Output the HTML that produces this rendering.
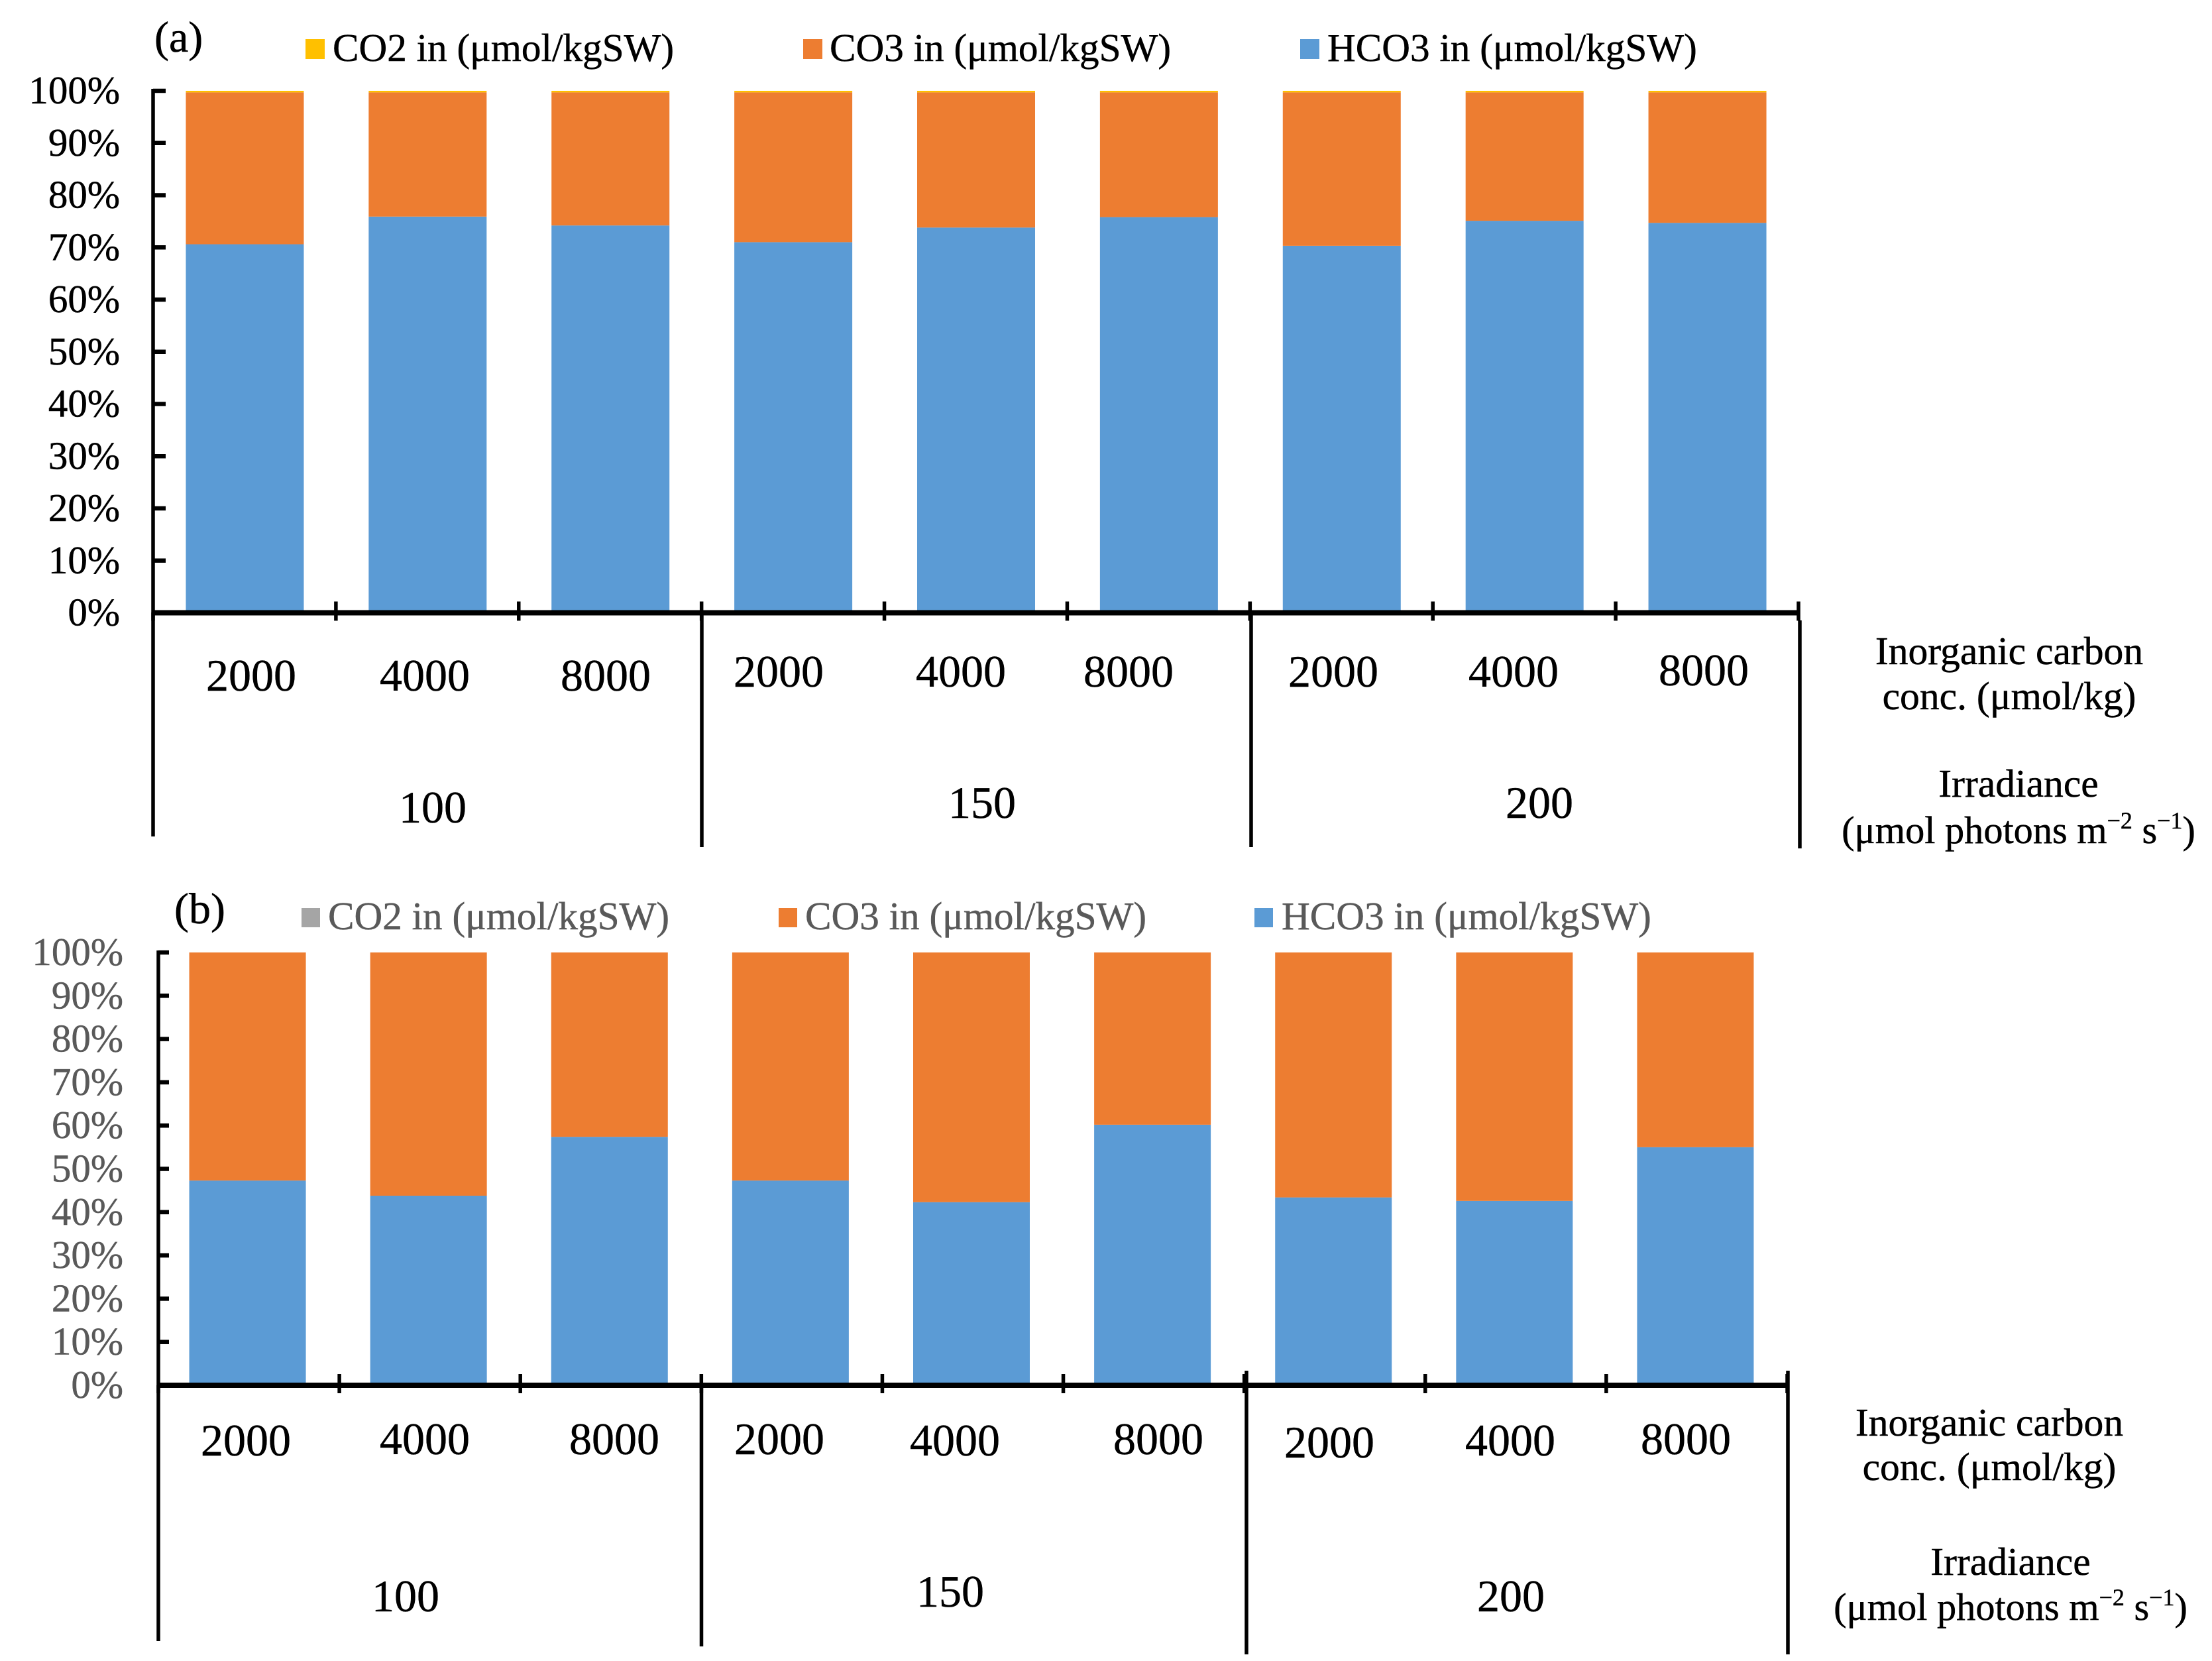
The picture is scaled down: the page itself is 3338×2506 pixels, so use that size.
<!DOCTYPE html>
<html lang="en">
<head>
<meta charset="utf-8">
<title>Inorganic carbon species share, panels a and b</title>
<style>
  html, body { margin: 0; padding: 0; background: #fff; }
  svg { display: block; font-family: "Liberation Serif", "Times New Roman", serif; }
  text { stroke-width: 0.5px; }
  .leg-a { font-size: 59.2px; fill: #000; stroke: #000; }
  .leg-b { font-size: 59.2px; fill: #595959; stroke: #595959; }
  .cat { font-size: 68px; fill: #000; stroke: #000; text-anchor: middle; }
  .side { font-size: 59.6px; fill: #000; stroke: #000; text-anchor: middle; }
  .side-u { font-size: 58.3px; fill: #000; stroke: #000; text-anchor: middle; }
  .panel-label { font-size: 66px; fill: #000; stroke: #000; }
  .sep { stroke: #000; stroke-width: 5.5; }
</style>
</head>
<body>
<svg id="fig" xmlns="http://www.w3.org/2000/svg" width="3338" height="2506" viewBox="0 0 3338 2506">
  <rect x="0" y="0" width="3338" height="2506" fill="#ffffff"/>

  <g id="panel-a"></g>
  <g id="panel-b"></g>

  <!-- Panel A annotations -->
  <text class="panel-label" x="233" y="78">(a)</text>

  <g>
    <rect x="461" y="59" width="29" height="30" fill="#FFC000"/>
    <text class="leg-a" x="502" y="92">CO2 in (μmol/kgSW)</text>
    <rect x="1212" y="59" width="29" height="30" fill="#ED7D31"/>
    <text class="leg-a" x="1252" y="92">CO3 in (μmol/kgSW)</text>
    <rect x="1962" y="59" width="29" height="30" fill="#5B9BD5"/>
    <text class="leg-a" x="2003" y="92">HCO3 in (μmol/kgSW)</text>
  </g>

  <g>
    <line class="sep" x1="231" y1="924" x2="231" y2="1262"/>
    <line class="sep" x1="1059" y1="924" x2="1059" y2="1278"/>
    <line class="sep" x1="1888" y1="924" x2="1888" y2="1278"/>
    <line class="sep" x1="2716" y1="936" x2="2716" y2="1280"/>
  </g>

  <g>
    <text class="cat" x="379" y="1042">2000</text>
    <text class="cat" x="641" y="1042">4000</text>
    <text class="cat" x="914" y="1042">8000</text>
    <text class="cat" x="1175" y="1036">2000</text>
    <text class="cat" x="1450" y="1036">4000</text>
    <text class="cat" x="1703" y="1036">8000</text>
    <text class="cat" x="2012" y="1036">2000</text>
    <text class="cat" x="2284" y="1036">4000</text>
    <text class="cat" x="2571" y="1034">8000</text>
  </g>
  <g>
    <text class="cat" x="653" y="1241">100</text>
    <text class="cat" x="1482" y="1234">150</text>
    <text class="cat" x="2323" y="1234">200</text>
  </g>
  <text class="side" x="3032" y="1002">Inorganic carbon</text>
  <text class="side" x="3032" y="1070">conc. (μmol/kg)</text>
  <text class="side" x="3046" y="1202">Irradiance</text>
  <text class="side-u" x="3046" y="1272">(μmol photons m<tspan font-size="36" dy="-22">−2</tspan><tspan dy="22"> s</tspan><tspan font-size="36" dy="-22">−1</tspan><tspan dy="22">)</tspan></text>

  <!-- Panel B annotations -->
  <text class="panel-label" x="263" y="1393">(b)</text>

  <g>
    <rect x="455" y="1370" width="28" height="29" fill="#A5A5A5"/>
    <text class="leg-b" x="495" y="1402">CO2 in (μmol/kgSW)</text>
    <rect x="1175" y="1370" width="28" height="29" fill="#ED7D31"/>
    <text class="leg-b" x="1215" y="1402">CO3 in (μmol/kgSW)</text>
    <rect x="1893" y="1370" width="28" height="29" fill="#5B9BD5"/>
    <text class="leg-b" x="1934" y="1402">HCO3 in (μmol/kgSW)</text>
  </g>

  <g>
    <line class="sep" x1="239" y1="2090" x2="239" y2="2476"/>
    <line class="sep" x1="1058.5" y1="2090" x2="1058.5" y2="2484"/>
    <line class="sep" x1="1881" y1="2068" x2="1881" y2="2496"/>
    <line class="sep" x1="2698" y1="2068" x2="2698" y2="2496"/>
  </g>

  <g>
    <text class="cat" x="371" y="2196">2000</text>
    <text class="cat" x="641" y="2194">4000</text>
    <text class="cat" x="927" y="2194">8000</text>
    <text class="cat" x="1176" y="2194">2000</text>
    <text class="cat" x="1441" y="2196">4000</text>
    <text class="cat" x="1748" y="2194">8000</text>
    <text class="cat" x="2006" y="2199">2000</text>
    <text class="cat" x="2279" y="2196">4000</text>
    <text class="cat" x="2544" y="2194">8000</text>
  </g>
  <g>
    <text class="cat" x="612" y="2431">100</text>
    <text class="cat" x="1434" y="2424">150</text>
    <text class="cat" x="2280" y="2431">200</text>
  </g>
  <text class="side" x="3002" y="2166">Inorganic carbon</text>
  <text class="side" x="3002" y="2233">conc. (μmol/kg)</text>
  <text class="side" x="3034" y="2376">Irradiance</text>
  <text class="side-u" x="3034" y="2444">(μmol photons m<tspan font-size="36" dy="-22">−2</tspan><tspan dy="22"> s</tspan><tspan font-size="36" dy="-22">−1</tspan><tspan dy="22">)</tspan></text>
</svg>

<script>
// Chart data (percent of total).
var categories = ["100-2000", "100-4000", "100-8000", "150-2000", "150-4000", "150-8000", "200-2000", "200-4000", "200-8000"];
var yTickLabels = ["0%", "10%", "20%", "30%", "40%", "50%", "60%", "70%", "80%", "90%", "100%"];
var yTickValues = [0, 10, 20, 30, 40, 50, 60, 70, 80, 90, 100];

var panelAHco3 = [70.6, 75.9, 74.2, 71.0, 73.8, 75.8, 70.3, 75.1, 74.7];
var panelACo3 = [29.1, 23.8, 25.5, 28.7, 25.9, 23.9, 29.4, 24.6, 25.0];
var panelACo2 = [0.3, 0.3, 0.3, 0.3, 0.3, 0.3, 0.3, 0.3, 0.3];

var panelBHco3 = [47.3, 43.8, 57.4, 47.3, 42.3, 60.2, 43.4, 42.6, 55.0];
var panelBCo3 = [52.7, 56.2, 42.6, 52.7, 57.7, 39.8, 56.6, 57.4, 45.0];
var panelBCo2 = [0, 0, 0, 0, 0, 0, 0, 0, 0];

var NS = "http://www.w3.org/2000/svg";

function svgEl(tag, attrs, parent) {
  var el = document.createElementNS(NS, tag);
  for (var k in attrs) { el.setAttribute(k, attrs[k]); }
  parent.appendChild(el);
  return el;
}

function drawPanel(p) {
  var root = document.getElementById(p.id);
  function xBand(i) { return p.x0 + (i + 0.5) * (p.x1 - p.x0) / categories.length + p.barShift; }
  function xEdge(i) { return p.x0 + i * (p.x1 - p.x0) / categories.length; }
  function y(v) { return p.y0 + (p.y100 - p.y0) * v / 100; }

  var series = [
    { key: "hco3", values: p.hco3, color: "#5B9BD5" },
    { key: "co3", values: p.co3, color: "#ED7D31" },
    { key: "co2", values: p.co2, color: "#FFC000" }
  ];

  categories.forEach(function (cat, i) {
    var base = 0;
    series.forEach(function (s) {
      var v = s.values[i];
      var rect = svgEl("rect", {
        x: xBand(i) - p.barWidth / 2,
        y: y(base + v),
        width: p.barWidth,
        height: Math.max(0, y(base) - y(base + v)),
        fill: s.color
      }, root);
      
      
      base += v;
    });
  });

  // Y axis line, ticks and tick labels
  var yAxis = svgEl("line", { x1: p.x0, y1: y(100) - 3, x2: p.x0, y2: y(0) + 12, stroke: "#000", "stroke-width": 5.5 }, root);
  
  

  yTickValues.forEach(function (v, i) {
    if (v > 0) {
      var tick = svgEl("line", { x1: p.x0, y1: y(v), x2: p.x0 + p.yTickLen, y2: y(v), stroke: "#000", "stroke-width": 6.5 }, root);
      
      
    }
    var label = svgEl("text", { x: p.yLabelRight, y: y(v) + 19, "text-anchor": "end", "font-size": 59, fill: p.tickColor, stroke: p.tickColor }, root);
    label.textContent = yTickLabels[i];
    
    
  });

  // X axis line and ticks
  var xAxis = svgEl("line", { x1: p.x0, y1: y(0), x2: p.x1, y2: y(0), stroke: "#000", "stroke-width": 8 }, root);
  
  

  for (var i = 1; i <= categories.length; i++) {
    var xt = xEdge(i);
    var xTick = svgEl("line", { x1: xt, y1: y(0) - 17, x2: xt, y2: y(0) + 12, stroke: "#000", "stroke-width": 5.5 }, root);
    
    
  }
}

drawPanel({
  id: "panel-a", x0: 231, x1: 2714, y0: 924.5, y100: 137,
  barWidth: 178, barShift: 0.5, yTickLen: 19, yLabelRight: 181, tickColor: "#000000",
  hco3: panelAHco3, co3: panelACo3, co2: panelACo2
});
drawPanel({
  id: "panel-b", x0: 239, x1: 2697, y0: 2090, y100: 1437,
  barWidth: 176, barShift: -2, yTickLen: 16, yLabelRight: 186, tickColor: "#595959",
  hco3: panelBHco3, co3: panelBCo3, co2: panelBCo2
});
</script>
</body>
</html>
